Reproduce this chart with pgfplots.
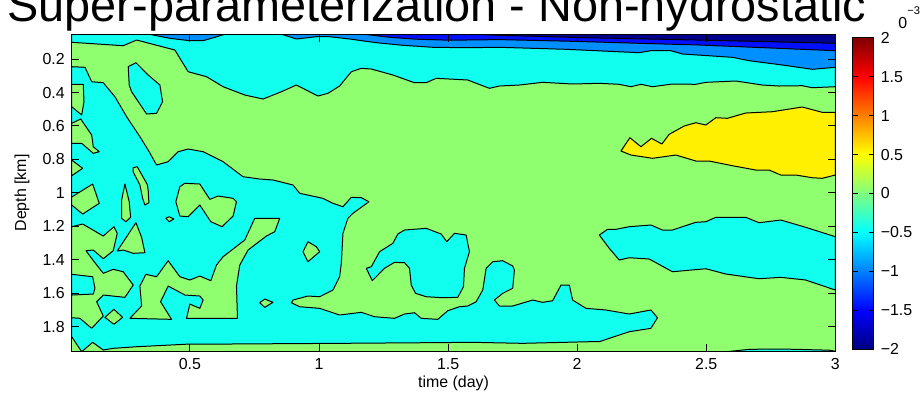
\documentclass[border=0pt]{standalone}
\usepackage{fontspec}
\setmainfont{Liberation Sans}
\usepackage{pgfplots}
\pgfplotsset{compat=1.18}
\definecolor{cnavy}{RGB}{0,0,143}
\definecolor{cblue}{RGB}{0,16,255}
\definecolor{clblue}{RGB}{0,143,255}
\definecolor{ccyan}{RGB}{16,255,239}
\definecolor{cgreen}{RGB}{143,255,112}
\definecolor{cyellow}{RGB}{255,239,0}
\begin{document}
\begin{tikzpicture}
\begin{axis}[
  at={(35.85bp,-175.85bp)}, anchor=south west,
  scale only axis, width=381.8bp, height=158.85bp,
  xmin=0.042, xmax=3, ymin=0.05, ymax=1.95, y dir=reverse,
  xtick={0.5,1,1.5,2,2.5,3},
  ytick={0.2,0.4,0.6,0.8,1,1.2,1.4,1.6,1.8},
  /pgf/number format/assume math mode=true,
  tick align=inside, major tick length=3.8bp,
  tick label style={font=\fontsize{8}{9.6}\selectfont},
  label style={font=\fontsize{8}{9.6}\selectfont},
  xlabel={time (day)}, ylabel={Depth [km]},
  xlabel style={at={(axis description cs:0.5,-0.0985)}, anchor=center},
  ylabel style={at={(axis description cs:-0.0651,0.5)}, anchor=center},
  axis on top,
  axis line style={line width=0.5bp},
  every tick/.style={black, line width=0.5bp},
  poly/.style={draw=black, line width=0.5bp, line join=round},
  colorbar, colormap/jet, point meta min=-2, point meta max=2,
  colorbar style={
    at={(parent axis.north east)}, anchor=north west,
    xshift={8.7bp-0.3cm}, yshift=-1.85bp,
    scale only axis, width=10.5bp, height=155.8bp,
    ytick={-2,-1.5,-1,-0.5,0,0.5,1,1.5,2},
    yticklabels={−2,−1.5,−1,−0.5,0,0.5,1,1.5,2},
    yticklabel style={font=\fontsize{8}{9.6}\selectfont},
    tick align=inside, major tick length=2.5bp,
    axis line style={line width=0.5bp},
    every tick/.style={black, line width=0.5bp},
  },
]
% background (level 0)
\addplot[fill=cgreen, draw=none] coordinates {(0.042,0.05) (3,0.05) (3,1.95) (0.042,1.95)} -- cycle;
% top cyan band
\addplot[poly, fill=ccyan] coordinates {(0.042,0.05) (0.042,0.0996) (0.2416,0.12) (0.2935,0.0859) (0.4416,0.1457) (0.4931,0.2755) (0.5643,0.3054) (0.6285,0.3652) (0.7124,0.4148) (0.7832,0.4388) (0.8544,0.3951) (0.9124,0.355) (0.996,0.4208) (1.0347,0.4047) (1.0799,0.361) (1.1252,0.2755) (1.1639,0.2551) (1.2026,0.2593) (1.2861,0.2952) (1.3701,0.3413) (1.4153,0.3413) (1.454,0.315) (1.5763,0.3251) (1.6602,0.3748) (1.6989,0.361) (1.7763,0.355) (1.8664,0.3389) (1.9824,0.349) (2.0857,0.3449) (2.1631,0.3508) (2.2083,0.3652) (2.247,0.3508) (2.2919,0.3652) (2.3693,0.349) (2.4598,0.3508) (2.4985,0.3389) (2.6145,0.3311) (2.7174,0.355) (2.7821,0.361) (2.8722,0.3592) (2.9109,0.3712) (3,0.3652) (3,0.05)} -- cycle;
% light blue
\addplot[poly, fill=clblue] coordinates {(0.337,0.05) (0.4223,0.0757) (0.4997,0.0901) (0.5511,0.0901) (0.5964,0.0697) (0.6285,0.0542) (0.6389,0.05)} -- cycle;
\addplot[poly, fill=clblue] coordinates {(0.8478,0.05) (0.8606,0.0542) (0.9124,0.0799) (0.9898,0.0661) (1.0412,0.0661) (1.1186,0.0799) (1.2219,0.102) (1.3248,0.1176) (1.4408,0.1295) (1.57,0.1319) (1.6989,0.1295) (1.9569,0.1415) (2.2405,0.1618) (2.2857,0.1499) (2.3631,0.1499) (2.408,0.1696) (2.6014,0.1894) (2.666,0.2097) (2.7948,0.2354) (2.9109,0.2611) (3,0.2492) (3,0.05)} -- cycle;
% blue
\addplot[poly, fill=cblue] coordinates {(1.165,0.05) (1.2734,0.0697) (1.3766,0.0811) (1.5054,0.0871) (1.6989,0.0835) (1.9824,0.0937) (2.2405,0.1056) (2.4726,0.1158) (3,0.1499) (3,0.05)} -- cycle;
% navy
\addplot[poly, fill=cnavy] coordinates {(1.5828,0.05) (1.6989,0.0578) (1.9956,0.0709) (2.4985,0.0871) (3,0.1056) (3,0.05)} -- cycle;
% yellow
\addplot[poly, fill=cyellow] coordinates {(2.1697,0.7498) (2.2045,0.6702) (2.247,0.7241) (2.2881,0.6738) (2.3283,0.7079) (2.3565,0.6499) (2.4146,0.6002) (2.4598,0.5805) (2.4985,0.5943) (2.5372,0.5506) (2.5821,0.5542) (2.6532,0.5225) (2.7561,0.5147) (2.8722,0.4866) (2.9495,0.5183) (3,0.5183) (3,0.8933) (2.9495,0.9131) (2.9109,0.9095) (2.8467,0.8933) (2.7887,0.8933) (2.7434,0.8634) (2.6919,0.8634) (2.6014,0.8377) (2.5112,0.8096) (2.4598,0.8096) (2.3824,0.7737) (2.2919,0.7934) (2.2083,0.7737)} -- cycle;
% right cyan band
\addplot[poly, fill=ccyan] coordinates {(2.0857,1.2522) (2.1178,1.2181) (2.1503,1.2181) (2.2018,1.2025) (2.2857,1.1923) (2.3306,1.2223) (2.3693,1.2223) (2.408,1.2025) (2.4598,1.1762) (2.4985,1.1726) (2.5372,1.1463) (2.6532,1.1463) (2.7047,1.1786) (2.7887,1.1624) (2.8854,1.2061) (3,1.2623) (3,1.5811) (2.8854,1.5213) (2.7887,1.5052) (2.7047,1.5135) (2.5759,1.4854) (2.4985,1.4537) (2.3693,1.4717) (2.2792,1.3957) (2.2018,1.3879) (2.1631,1.4017) (2.1244,1.3317)} -- cycle;
% bottom right thin cyan
\addplot[poly, fill=ccyan] coordinates {(2.58,1.95) (2.666,1.9357) (2.7948,1.934) (2.9755,1.9408) (3,1.9468) (3,1.95)} -- cycle;
% big left cyan region
\addplot[poly, fill=ccyan] coordinates {(0.042,0.2456) (0.0935,0.2492) (0.1194,0.3353) (0.1643,0.3413) (0.2095,0.425) (0.2548,0.5446) (0.3062,0.6642) (0.3383,0.7438) (0.3708,0.8335) (0.4157,0.8138) (0.4544,0.754) (0.4931,0.7378) (0.5511,0.754) (0.6285,0.8138) (0.7058,0.9035) (0.7704,0.9172) (0.8219,0.9232) (0.8993,0.9531) (0.9252,1.0028) (1.0153,1.0327) (1.054,1.0626) (1.0927,1.0829) (1.1252,1.0267) (1.1639,1.0291) (1.1933,1.053) (1.1314,1.1224) (1.112,1.1523) (1.0927,1.242) (1.0865,1.4214) (1.0799,1.5016) (1.054,1.5811) (1.0026,1.6212) (0.9573,1.617) (0.8993,1.6409) (0.8931,1.6571) (0.9252,1.681) (1.0026,1.6906) (1.0799,1.7306) (1.1639,1.7145) (1.2153,1.7408) (1.2927,1.7504) (1.3314,1.7246) (1.3701,1.7169) (1.396,1.7504) (1.4602,1.7564) (1.4989,1.7049) (1.5441,1.681) (1.5763,1.6768) (1.6088,1.6511) (1.6343,1.5811) (1.6474,1.4513) (1.673,1.4118) (1.7116,1.4059) (1.7503,1.4376) (1.7569,1.4615) (1.7503,1.5709) (1.7116,1.6009) (1.6795,1.6409) (1.6989,1.6768) (1.7503,1.6768) (1.8277,1.6409) (1.8664,1.6547) (1.9051,1.6451) (1.9375,1.5512) (1.9697,1.5512) (1.9824,1.6409) (2.0343,1.6906) (2.1116,1.7007) (2.2018,1.7246) (2.2857,1.7007) (2.3113,1.7468) (2.2857,1.8102) (2.2018,1.8305) (2.1244,1.87) (2.0857,1.8903) (2.047,1.8903) (1.789,1.8999) (1.5956,1.8939) (1.4022,1.8963) (1.0799,1.8999) (0.6416,1.9041) (0.4997,1.9041) (0.2935,1.9202) (0.2029,1.9298) (0.1643,1.94) (0.1232,1.8939) (0.0807,1.95) (0.042,1.8604)} -- cycle;
% cyan islands inside green
\addplot[poly, fill=ccyan] coordinates {(0.261,0.2456) (0.2908,0.2216) (0.3383,0.2952) (0.3836,0.355) (0.394,0.4549) (0.3708,0.5243) (0.3321,0.5285) (0.2741,0.3951) (0.2648,0.355)} -- cycle;
\addplot[poly, fill=ccyan] coordinates {(1.1832,1.4513) (1.2026,1.4418) (1.2347,1.352) (1.2861,1.3018) (1.3055,1.2462) (1.3314,1.2223) (1.4153,1.2121) (1.4733,1.2462) (1.495,1.2922) (1.5248,1.242) (1.57,1.2522) (1.5828,1.352) (1.5635,1.4513) (1.5596,1.5614) (1.5376,1.6248) (1.4795,1.6272) (1.4153,1.6212) (1.3739,1.6009) (1.3573,1.5512) (1.3507,1.4513) (1.3314,1.4178) (1.2927,1.4154) (1.254,1.4513) (1.2064,1.5255)} -- cycle;
% green islands inside the big cyan region
\addplot[poly, fill=cgreen] coordinates {(0.042,0.3508) (0.0869,0.3508) (0.0896,0.4549) (0.0807,0.5344) (0.042,0.4848)} -- cycle;
\addplot[poly, fill=cgreen] coordinates {(0.042,0.5841) (0.0768,0.5584) (0.1194,0.6541) (0.1256,0.7241) (0.1488,0.754) (0.1256,0.7635) (0.0807,0.7037) (0.042,0.7037)} -- cycle;
\addplot[poly, fill=cgreen] coordinates {(0.042,0.8036) (0.0846,0.8532) (0.042,0.8975)} -- cycle;
\addplot[poly, fill=cgreen] coordinates {(0.2803,0.8496) (0.2958,0.8437) (0.3345,0.9489) (0.3383,0.983) (0.341,1.059) (0.3256,1.0727) (0.3167,1.0327) (0.3062,0.9531) (0.2803,0.8754)} -- cycle;
\addplot[poly, fill=cgreen] coordinates {(0.2482,0.9471) (0.2648,1.053) (0.2703,1.1463) (0.2521,1.1726) (0.2354,1.1523) (0.2354,1.0428)} -- cycle;
\addplot[poly, fill=cgreen] coordinates {(0.461,0.9633) (0.4803,0.9429) (0.5383,0.9471) (0.577,1.0386) (0.6091,1.0189) (0.6672,1.0327) (0.6803,1.053) (0.6672,1.1385) (0.6246,1.2025) (0.5809,1.1726) (0.5383,1.0727) (0.4931,1.1427) (0.461,1.1385) (0.4455,1.053)} -- cycle;
\addplot[poly, fill=cgreen] coordinates {(0.042,1.0249) (0.1232,0.9471) (0.1488,1.0626) (0.0846,1.1266) (0.042,1.0727)} -- cycle;
\addplot[poly, fill=cgreen] coordinates {(0.4068,1.1523) (0.4196,1.1427) (0.4378,1.1565) (0.4196,1.1726)} -- cycle;
\addplot[poly, fill=cgreen] coordinates {(0.2184,1.3478) (0.2908,1.1786) (0.3128,1.266) (0.3256,1.358) (0.2803,1.3616) (0.2416,1.3419)} -- cycle;
\addplot[poly, fill=cgreen] coordinates {(0.042,1.2025) (0.0846,1.1864) (0.1643,1.2581) (0.2056,1.2025) (0.2184,1.242) (0.2029,1.3461) (0.1643,1.3939) (0.1256,1.3419) (0.0973,1.3461) (0.1321,1.4178) (0.1643,1.4812) (0.2029,1.4573) (0.2416,1.4717) (0.2803,1.5512) (0.2482,1.6248) (0.1643,1.611) (0.1387,1.6511) (0.1643,1.7366) (0.1194,1.8102) (0.0741,1.7504) (0.042,1.7468)} -- cycle;
\addplot[poly, fill=ccyan] coordinates {(0.042,1.4872) (0.1232,1.5016) (0.1321,1.5709) (0.1256,1.6051) (0.042,1.611)} -- cycle;
\addplot[poly, fill=cgreen] coordinates {(0.1708,1.7444) (0.2056,1.6966) (0.2393,1.7444) (0.2056,1.7862)} -- cycle;
\addplot[poly, fill=cgreen] coordinates {(0.2675,1.7504) (0.3128,1.6768) (0.3062,1.5572) (0.3294,1.4872) (0.3708,1.5016) (0.4157,1.4059) (0.461,1.5016) (0.4997,1.5213) (0.5383,1.4974) (0.5809,1.5255) (0.6029,1.4316) (0.6285,1.3819) (0.7124,1.2821) (0.7511,1.1523) (0.8478,1.1523) (0.8285,1.2324) (0.7964,1.2581) (0.7252,1.3419) (0.6931,1.4316) (0.6803,1.5572) (0.6842,1.7504) (0.4869,1.7504) (0.4997,1.6649) (0.5383,1.6906) (0.5511,1.6409) (0.5383,1.617) (0.4803,1.611) (0.4157,1.5572) (0.3863,1.6511) (0.4289,1.7564)} -- cycle;
\addplot[poly, fill=cgreen] coordinates {(0.9573,1.2922) (0.9898,1.3221) (1.0026,1.352) (0.9573,1.4118) (0.9379,1.352)} -- cycle;
\addplot[poly, fill=cgreen] coordinates {(0.7704,1.6571) (0.7898,1.6349) (0.8219,1.6547) (0.7898,1.6846)} -- cycle;
\end{axis}
\node[anchor=base, inner sep=0, font=\fontsize{23.5}{28}\selectfont] at (218.5bp,-10.5bp) {Super-parameterization - Non-hydrostatic};
\node[anchor=base west, inner sep=0, font=\fontsize{8}{9.6}\selectfont] at (449bp,-14bp) {0\raisebox{7bp}{\fontsize{5.6}{6}\selectfont −3}};
\pgfresetboundingbox
\path[use as bounding box] (0bp,0bp) rectangle (461bp,-201bp);
\end{tikzpicture}
\end{document}
